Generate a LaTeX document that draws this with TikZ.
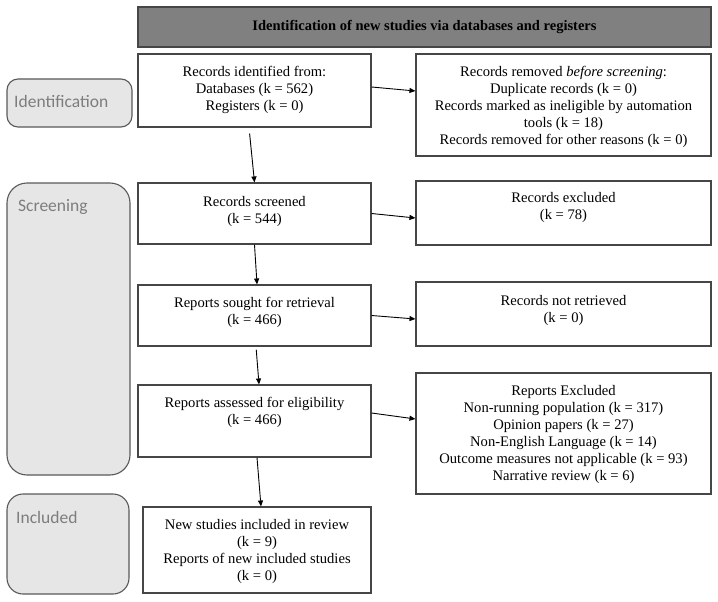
\documentclass[tikz,border=0pt]{standalone}
\usepackage{fontspec}
\setmainfont{Liberation Serif}
\newfontfamily\sidefont{Carlito}
\usetikzlibrary{arrows.meta}
\definecolor{boxline}{RGB}{70,70,70}
\definecolor{sidefill}{RGB}{230,230,230}
\definecolor{sidetext}{RGB}{125,125,125}
\definecolor{hdrfill}{RGB}{128,128,128}
\tikzset{
  x=1pt, y=-1pt,
  box/.style={draw=boxline, line width=1.1pt, fill=white, inner sep=0pt},
  side/.style={draw=boxline!90, line width=1.1pt, fill=sidefill, inner sep=0pt},
  txt/.style={align=center, inner sep=0pt, font=\fontsize{14.6}{17}\selectfont},
  sidelbl/.style={anchor=west, inner sep=0pt, text=sidetext, font=\sidefont\fontsize{17.5}{20}\selectfont},
  arr/.style={-{Triangle[length=6pt,width=5pt]}, line width=0.9pt, black}
}
\begin{document}
\begin{tikzpicture}
\useasboundingbox (0,0) rectangle (718,602);
% header
\node[box, fill=hdrfill, minimum width=573pt, minimum height=40pt] (hdr) at (424.5,27) {};
\node[inner sep=0pt, font=\bfseries\fontsize{14.5}{17}\selectfont] (hdrt) at (hdr.center) {Identification of new studies via databases and registers};
% side boxes
\node[side, rounded corners=11pt, minimum width=125pt, minimum height=48pt] (idside) at (69.5,103) {};
\node[sidelbl] (idl) at (14,101) {Identification};
\node[side, rounded corners=20pt, minimum width=123pt, minimum height=292pt] (scrside) at (68.5,329) {};
\node[sidelbl] (scl) at (18,207) {Screening};
\node[side, rounded corners=16pt, minimum width=122pt, minimum height=100pt] (incside) at (68,544) {};
\node[sidelbl] (inl) at (16,517) {Included};
% left column
\node[box, minimum width=233pt, minimum height=73pt] (b1) at (254.5,90.5) {};
\node[txt] (b1t) at (254.5,89.5) {Records identified from:\\Databases (k = 562)\\Registers (k = 0)};
\node[box, minimum width=233pt, minimum height=61pt] (b2) at (254.5,213.5) {};
\node[txt] (b2t) at (254.5,211) {Records screened\\(k = 544)};
\node[box, minimum width=233pt, minimum height=61pt] (b3) at (254.5,315.5) {};
\node[txt] (b3t) at (254.5,312) {Reports sought for retrieval\\(k = 466)};
\node[box, minimum width=233pt, minimum height=72pt] (b4) at (254.5,421) {};
\node[txt] (b4t) at (254.5,412) {Reports assessed for eligibility\\(k = 466)};
\node[box, minimum width=228pt, minimum height=86pt] (b5) at (257,550) {};
\node[txt] (b5t) at (257,551) {New studies included in review\\(k = 9)\\Reports of new included studies\\(k = 0)};
% right column
\node[box, minimum width=295pt, minimum height=102pt] (rem) at (563.5,105) {};
\node[txt] (remt) at (563.5,106.5) {Records removed \textit{before screening}:\\Duplicate records (k = 0)\\Records marked as ineligible by automation\\tools (k = 18)\\Records removed for other reasons (k = 0)};
\node[box, minimum width=295pt, minimum height=64pt] (exc) at (563.5,213) {};
\node[txt] (exct) at (563.5,207.5) {Records excluded\\(k = 78)};
\node[box, minimum width=295pt, minimum height=64pt] (nr) at (563.5,314) {};
\node[txt] (nrt) at (563.5,310) {Records not retrieved\\(k = 0)};
\node[box, minimum width=295pt, minimum height=121pt] (rexc) at (563.5,433.5) {};
\node[txt] (rexct) at (563.5,434.5) {Reports Excluded\\Non-running population (k = 317)\\Opinion papers (k = 27)\\Non-English Language (k = 14)\\Outcome measures not applicable (k = 93)\\Narrative review (k = 6)};
% arrows down
\draw[arr, shorten <=6pt] ([xshift=-5.5pt]b1.south) -- (b2.north);
\draw[arr] (b2.south) -- ([xshift=2.5pt]b3.north);
\draw[arr, shorten <=3pt] ([xshift=1.5pt]b3.south) -- ([xshift=4.5pt]b4.north);
\draw[arr] ([xshift=2.5pt]b4.south) -- ([xshift=4pt]b5.north);
% arrows right
\draw[arr] ([yshift=3.5pt]b1.east) -- ([yshift=14pt]rem.west);
\draw[arr] (b2.east) -- ([yshift=-5pt]exc.west);
\draw[arr] (b3.east) -- ([yshift=-5pt]nr.west);
\draw[arr] ([yshift=8pt]b4.east) -- ([yshift=14.5pt]rexc.west);
\end{tikzpicture}
\end{document}
